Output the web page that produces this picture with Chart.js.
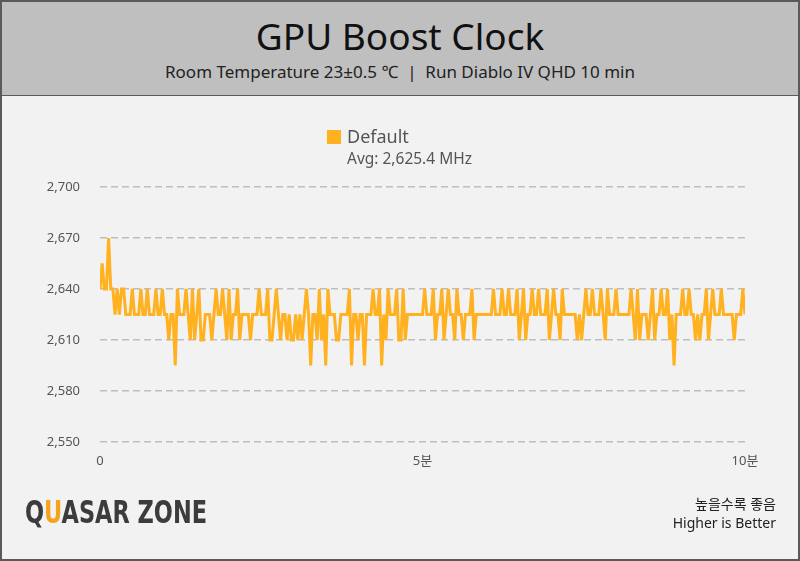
<!DOCTYPE html>
<html>
<head>
<meta charset="utf-8">
<script src="https://cdn.jsdelivr.net/npm/chart.js@4.4.1/dist/chart.umd.min.js"></script>
<style>
  html, body { margin: 0; padding: 0; }
  body { width: 800px; height: 561px; overflow: hidden; font-family: 'Noto Sans', 'Noto Sans CJK KR', sans-serif; }
  .frame { position: relative; width: 796px; height: 557px; border: 2px solid #5a5a5a; background: #f2f2f2; }
  .header { position: absolute; left: 0; top: 0; width: 796px; height: 93px; background: #bfbfbf; border-bottom: 1px solid #5a5a5a; }
  .title { position: absolute; left: 0; width: 100%; top: 10px; text-align: center; font-size: 37px; color: #111; line-height: 48px; }
  .subtitle { position: absolute; left: 0; width: 100%; top: 58px; text-align: center; font-size: 17px; color: #222; line-height: 24px; }
  canvas { position: absolute; left: -2px; top: -2px; }
  .legend { position: absolute; left: 325px; top: 122px; color: #555; }
  .legend .box { position: absolute; left: 0; top: 6px; width: 14px; height: 14px; background: #ffb11f; }
  .legend .name { position: absolute; left: 20px; top: 0; font-size: 18px; line-height: 24px; white-space: nowrap; }
  .legend .avg { position: absolute; left: 20px; top: 24px; font-size: 15.5px; line-height: 20px; white-space: nowrap; }
  .logo { position: absolute; left: 23px; top: 492px; font-family: 'DejaVu Sans Condensed', 'Liberation Sans Narrow', sans-serif; font-weight: bold; font-size: 32px; color: #3c3c3c; line-height: 36px; transform: scaleX(0.78); transform-origin: 0 0; white-space: nowrap; }
  .logo span { color: #f7a21b; }
  .note { position: absolute; right: 22px; top: 492px; text-align: right; font-size: 14px; color: #222; line-height: 19px; }
</style>
</head>
<body>
<div class="frame">
  <div class="header">
    <div class="title">GPU Boost Clock</div>
    <div class="subtitle">Room Temperature 23±0.5 ℃ &nbsp;|&nbsp; Run Diablo IV QHD 10 min</div>
  </div>
  <canvas id="chart" width="800" height="561"></canvas>
  <div class="legend">
    <div class="box"></div>
    <div class="name">Default</div>
    <div class="avg">Avg: 2,625.4 MHz</div>
  </div>
  <div class="logo">Q<span>U</span>ASAR ZONE</div>
  <div class="note">높을수록 좋음<br>Higher is Better</div>
</div>
<script>
// one sample every 2 seconds, 10 minutes
const SAMPLE_SEC = 2;
const seriesLabel = 'Default';
const clockMHz = [
  2640,2655,2640,2640,2670,2640,2640,2625,2640,2625,
  2640,2640,2625,2625,2625,2640,2625,2625,2625,2640,
  2625,2625,2640,2625,2625,2625,2640,2625,2625,2640,
  2625,2625,2610,2625,2625,2595,2640,2625,2625,2625,
  2640,2625,2610,2640,2610,2625,2640,2610,2610,2625,
  2625,2625,2610,2625,2640,2625,2625,2640,2625,2610,
  2640,2610,2625,2625,2640,2610,2625,2625,2625,2625,
  2610,2625,2625,2625,2640,2625,2625,2625,2640,2610,
  2610,2625,2640,2625,2610,2625,2625,2610,2625,2610,
  2610,2625,2610,2625,2610,2625,2640,2625,2595,2625,
  2625,2610,2640,2610,2625,2595,2640,2625,2625,2625,
  2610,2610,2625,2625,2625,2625,2640,2595,2625,2625,
  2610,2625,2625,2595,2625,2625,2625,2640,2625,2625,
  2640,2595,2625,2610,2640,2625,2625,2625,2640,2610,
  2610,2640,2610,2625,2625,2625,2625,2625,2625,2625,
  2625,2640,2625,2625,2625,2640,2610,2625,2625,2640,
  2610,2625,2640,2625,2625,2610,2640,2625,2625,2610,
  2625,2625,2625,2640,2610,2625,2625,2625,2625,2625,
  2625,2625,2625,2640,2625,2625,2625,2640,2625,2625,
  2640,2625,2625,2625,2640,2610,2625,2640,2610,2625,
  2625,2640,2625,2625,2640,2625,2625,2625,2640,2610,
  2625,2640,2625,2625,2610,2640,2625,2625,2625,2625,
  2625,2625,2610,2625,2610,2625,2640,2625,2625,2640,
  2625,2625,2625,2640,2625,2610,2640,2625,2625,2625,
  2640,2625,2625,2625,2625,2625,2625,2640,2625,2610,
  2640,2610,2625,2625,2625,2610,2625,2640,2610,2625,
  2625,2640,2625,2625,2640,2610,2625,2595,2625,2625,
  2625,2640,2625,2625,2640,2625,2625,2610,2625,2610,
  2625,2625,2640,2610,2625,2640,2625,2625,2625,2640,
  2625,2625,2625,2625,2625,2610,2625,2625,2625,2640,
  2625
];
const yTicks = [2550, 2580, 2610, 2640, 2670, 2700];
const xTickSec = [0, 300, 600];
const xTickLabels = ['0', '5분', '10분'];

const points = clockMHz.map((v, i) => ({ x: i * SAMPLE_SEC, y: v }));
const fmt = (v) => v.toLocaleString('en-US');

new Chart(document.getElementById('chart'), {
  type: 'line',
  data: {
    datasets: [{
      label: seriesLabel,
      data: points,
      borderColor: '#ffb11f',
      backgroundColor: '#ffb11f',
      borderWidth: 3,
      pointRadius: 0,
      tension: 0,
    }],
  },
  options: {
    responsive: false,
    animation: false,
    layout: { padding: { left: 0, right: 55, top: 187, bottom: 89 } },
    plugins: { legend: { display: false }, tooltip: { enabled: false } },
    scales: {
      x: {
        type: 'linear',
        min: xTickSec[0],
        max: xTickSec[xTickSec.length - 1],
        afterBuildTicks: (scale) => { scale.ticks = xTickSec.map((v) => ({ value: v })); },
        afterFit: (scale) => { scale.height = 30; },
        grid: { display: false },
        border: { display: false },
        ticks: {
          color: '#555',
          font: { size: 13, family: "'Noto Sans', 'Noto Sans CJK KR'" },
          padding: 3,
          maxRotation: 0,
          callback: (v) => xTickLabels[xTickSec.indexOf(v)] ?? '',
        },
      },
      y: {
        min: yTicks[0],
        max: yTicks[yTicks.length - 1],
        afterBuildTicks: (scale) => { scale.ticks = yTicks.map((v) => ({ value: v })); },
        afterFit: (scale) => { scale.width = 100; },
        grid: { color: '#bdbdbd', lineWidth: 1.5, drawTicks: false },
        border: { display: false, dash: [7, 4] },
        ticks: {
          color: '#555',
          font: { size: 13, family: "'Noto Sans'" },
          padding: 20,
          callback: (v) => fmt(v),
        },
      },
    },
  },
});
</script>
</body>
</html>
